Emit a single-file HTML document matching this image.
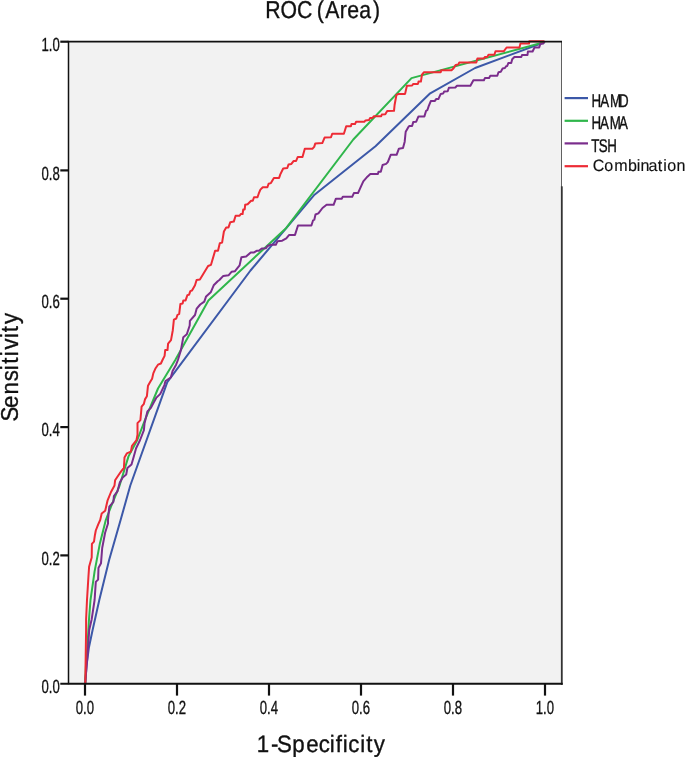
<!DOCTYPE html>
<html lang="en">
<head>
<meta charset="utf-8">
<title>ROC (Area)</title>
<style>
html,body{margin:0;padding:0;background:#fff;}
body{width:685px;height:758px;overflow:hidden;}
svg{display:block;}
text{font-family:"Liberation Sans",sans-serif;fill:#111;}
.tk{font-size:19.1px;stroke:#111;stroke-width:0.35px;}
.lg{font-size:18.4px;stroke:#111;stroke-width:0.38px;}
.ax{stroke:#111;fill:none;}
.cv{fill:none;stroke-width:2;stroke-linejoin:round;stroke-linecap:butt;}
</style>
</head>
<body>
<svg width="685" height="758" viewBox="0 0 685 758">
<rect x="0" y="0" width="685" height="758" fill="#ffffff"/>
<rect x="68.5" y="42" width="493" height="641.8" fill="#f2f2f2"/>
<path class="cv" stroke="#3c58a8" d="M85.2 683.5 L86.6 665.0 L88.9 647.5 L92.6 630.0 L99.3 600.0 L109.2 559.7 L120.6 520.0 L130.3 485.5 L167.3 382.2 L250.5 270.5 L314.5 194.7 L375.5 146.3 L430.2 93.3 L475.1 68.0 L545.0 42.0"/>
<path class="cv" stroke="#2fb64b" d="M85.2 683.5 L86.0 665.0 L87.0 651.3 L87.9 638.8 L89.0 619.2 L90.5 600.0 L94.6 571.4 L99.9 543.4 L105.8 520.0 L111.0 506.6 L119.2 486.7 L128.5 456.4 L137.3 440.0 L145.1 419.6 L158.0 388.5 L175.3 360.0 L208.4 300.4 L286.3 227.9 L353.3 139.5 L411.5 78.1 L545.0 42.0"/>
<path class="cv" stroke="#7a2d8c" d="M85.2 683.5 L87.4 656.3 L88.0 648.4 L89.2 630.0 L91.7 619.2 L94.6 600.0 L95.8 581.9 L98.1 579.6 L98.5 567.9 L101.0 563.2 L102.2 548.0 L105.1 532.8 L108.0 523.5 L108.0 520.0 L109.3 506.6 L113.4 501.9 L113.9 496.0 L117.4 491.4 L119.8 482.6 L122.7 477.4 L126.2 474.5 L127.4 468.0 L131.5 464.5 L133.8 456.4 L136.1 448.2 L140.1 440.0 L143.9 430.1 L144.5 423.6 L147.4 411.4 L150.9 407.9 L153.3 403.2 L156.2 397.9 L160.3 393.9 L164.4 385.1 L165.5 381.0 L170.8 377.5 L172.6 371.1 L176.1 364.7 L177.9 360.0 L180.9 350.1 L183.3 337.2 L186.8 334.3 L189.7 325.5 L189.9 320.9 L195.0 315.0 L196.7 308.6 L200.2 304.5 L204.3 301.6 L206.1 296.4 L210.7 292.3 L213.7 285.3 L217.7 281.2 L219.4 280.0 L223.3 275.9 L228.5 275.3 L231.5 271.8 L235.0 271.2 L239.6 265.4 L241.4 257.2 L246.1 256.6 L250.7 252.6 L253.7 252.6 L256.6 250.8 L258.9 250.8 L261.8 248.4 L265.8 248.3 L267.6 246.0 L270.5 244.8 L275.8 244.8 L277.5 241.3 L282.2 240.7 L286.3 238.4 L289.2 234.9 L295.0 234.9 L298.0 225.5 L311.4 225.5 L313.1 220.3 L314.3 219.7 L315.5 214.5 L318.4 213.3 L322.5 208.0 L326.6 204.8 L333.6 204.8 L335.9 198.7 L341.7 198.7 L342.8 196.8 L352.2 196.8 L353.9 193.1 L358.0 193.1 L360.9 186.6 L363.3 181.4 L367.4 176.7 L370.3 174.1 L377.9 174.1 L378.5 171.8 L380.8 171.8 L382.6 165.0 L386.1 163.9 L387.8 162.1 L390.7 154.8 L396.6 154.8 L398.9 148.7 L403.0 148.1 L404.7 141.7 L405.5 133.5 L405.7 131.8 L408.0 127.7 L409.2 126.0 L412.1 126.0 L413.3 121.9 L416.2 121.7 L418.5 116.4 L424.4 116.4 L426.1 110.8 L427.3 110.2 L428.5 106.7 L430.8 101.1 L434.9 100.9 L436.1 99.1 L438.4 99.1 L440.7 93.9 L443.1 93.6 L444.2 91.5 L447.7 91.3 L448.9 87.8 L455.3 87.5 L457.0 85.7 L470.4 85.7 L473.4 80.2 L483.9 80.2 L485.0 77.9 L489.1 77.9 L490.3 75.8 L497.3 75.8 L498.5 72.3 L500.8 71.8 L502.6 68.5 L504.9 68.0 L506.1 66.2 L507.2 66.0 L508.4 62.9 L511.2 62.9 L512.2 59.2 L514.4 57.0 L521.3 57.0 L522.0 55.0 L527.5 55.0 L527.9 51.5 L532.6 51.5 L534.5 47.5 L539.2 47.5 L540.3 43.9 L543.2 43.5 L543.9 42.0 L545.0 42.0"/>
<path class="cv" stroke="#ed2b35" d="M85.2 683.5 L85.3 682.5 L85.7 656.3 L86.1 630.0 L86.1 619.2 L87.0 600.0 L87.9 585.4 L88.4 577.2 L89.1 566.7 L91.7 557.4 L91.9 543.9 L94.0 541.6 L94.9 535.2 L95.8 530.5 L98.1 524.7 L100.2 520.0 L101.7 513.6 L105.2 510.7 L107.5 500.7 L111.0 492.0 L114.5 485.5 L115.1 480.3 L118.6 475.0 L121.5 470.9 L123.9 468.0 L124.5 457.5 L126.8 453.4 L130.9 451.7 L132.0 445.8 L136.5 440.0 L137.5 434.7 L137.5 423.1 L140.4 420.1 L141.6 406.7 L143.9 403.8 L145.1 399.1 L146.9 396.2 L148.0 385.7 L150.4 381.6 L152.1 378.7 L153.3 373.4 L155.6 368.2 L158.0 364.7 L160.9 363.5 L162.5 360.0 L164.6 355.9 L165.2 350.1 L167.5 350.1 L168.1 343.6 L171.0 340.1 L172.8 330.2 L173.9 319.7 L176.3 318.5 L177.4 315.0 L179.2 313.9 L180.4 303.9 L182.7 303.4 L183.3 300.4 L185.6 300.4 L187.4 295.2 L189.1 294.6 L190.3 291.1 L192.0 290.5 L195.0 285.3 L196.6 280.0 L199.9 279.4 L208.1 266.0 L211.0 264.8 L215.1 250.8 L218.0 250.8 L219.8 243.2 L222.1 242.6 L223.9 231.5 L226.2 227.4 L228.5 227.4 L230.3 222.2 L233.8 221.6 L235.6 215.8 L239.6 215.8 L240.8 214.0 L242.6 214.0 L243.2 209.6 L244.7 209.4 L245.2 204.7 L247.6 204.2 L251.1 200.7 L252.8 200.7 L254.0 197.2 L257.5 197.2 L258.7 193.7 L260.4 189.6 L262.8 187.2 L267.4 187.2 L268.6 183.7 L270.9 183.1 L273.9 177.9 L279.1 177.9 L280.3 174.4 L283.2 168.5 L287.3 168.0 L288.5 164.5 L291.4 163.9 L293.7 160.9 L296.1 160.9 L297.8 156.9 L302.5 156.9 L304.8 148.7 L312.4 148.7 L314.2 146.9 L315.3 143.4 L322.3 143.1 L324.6 137.6 L331.0 137.3 L332.2 133.8 L343.9 133.8 L346.2 126.2 L350.9 126.2 L351.5 124.1 L355.0 124.1 L356.1 121.8 L364.3 121.8 L365.5 120.4 L369.0 120.1 L370.1 118.0 L372.5 118.0 L373.7 116.3 L381.2 116.3 L381.8 114.5 L385.3 114.3 L387.2 110.9 L394.0 110.8 L394.6 105.0 L396.4 95.0 L398.7 93.9 L405.1 93.9 L406.9 85.7 L412.1 85.5 L413.3 83.9 L418.0 83.9 L418.5 81.6 L420.9 81.6 L422.0 74.6 L423.8 72.3 L440.7 72.3 L441.3 70.3 L451.5 70.3 L453.6 68.2 L455.6 64.9 L458.2 64.6 L459.3 62.5 L476.3 62.5 L477.4 58.6 L483.9 58.6 L485.0 56.9 L487.4 56.9 L488.5 54.8 L494.4 54.8 L495.5 51.3 L503.7 51.3 L506.6 47.5 L519.5 47.5 L520.4 43.6 L529.0 43.6 L529.3 41.2 L544.5 41.2"/>
<line class="ax" x1="561.5" y1="42" x2="561.5" y2="684.3" stroke-width="1" style="stroke:#606060"/>
<rect x="560.9" y="186.3" width="1.8" height="498.5" fill="#333"/>
<line class="ax" x1="67.8" y1="41.7" x2="562" y2="41.7" stroke-width="1.8"/>
<line class="ax" x1="68.5" y1="41" x2="68.5" y2="684.3" stroke-width="1.5"/>
<line class="ax" x1="60.3" y1="683.8" x2="562.7" y2="683.8" stroke-width="2.1"/>
<line class="ax" x1="85.0" y1="683.8" x2="85.0" y2="695.6" stroke-width="2.2"/>
<text class="tk" transform="translate(41.4 693.1) rotate(0.03) scale(0.69 1)">0.0</text>
<text class="tk" transform="translate(75.8 714.1) rotate(0.03) scale(0.69 1)">0.0</text>
<line class="ax" x1="60.3" y1="555.4" x2="68.5" y2="555.4" stroke-width="2.2"/>
<line class="ax" x1="177.0" y1="683.8" x2="177.0" y2="695.6" stroke-width="2.2"/>
<text class="tk" transform="translate(41.4 564.7) rotate(0.03) scale(0.69 1)">0.2</text>
<text class="tk" transform="translate(167.8 714.1) rotate(0.03) scale(0.69 1)">0.2</text>
<line class="ax" x1="60.3" y1="427.1" x2="68.5" y2="427.1" stroke-width="2.2"/>
<line class="ax" x1="269.0" y1="683.8" x2="269.0" y2="695.6" stroke-width="2.2"/>
<text class="tk" transform="translate(41.4 436.4) rotate(0.03) scale(0.69 1)">0.4</text>
<text class="tk" transform="translate(259.8 714.1) rotate(0.03) scale(0.69 1)">0.4</text>
<line class="ax" x1="60.3" y1="298.7" x2="68.5" y2="298.7" stroke-width="2.2"/>
<line class="ax" x1="361.0" y1="683.8" x2="361.0" y2="695.6" stroke-width="2.2"/>
<text class="tk" transform="translate(41.4 308.0) rotate(0.03) scale(0.69 1)">0.6</text>
<text class="tk" transform="translate(351.8 714.1) rotate(0.03) scale(0.69 1)">0.6</text>
<line class="ax" x1="60.3" y1="170.4" x2="68.5" y2="170.4" stroke-width="2.2"/>
<line class="ax" x1="453.0" y1="683.8" x2="453.0" y2="695.6" stroke-width="2.2"/>
<text class="tk" transform="translate(41.4 179.7) rotate(0.03) scale(0.69 1)">0.8</text>
<text class="tk" transform="translate(443.8 714.1) rotate(0.03) scale(0.69 1)">0.8</text>
<line class="ax" x1="60.3" y1="41.7" x2="68.5" y2="41.7" stroke-width="2.2"/>
<line class="ax" x1="545.0" y1="683.8" x2="545.0" y2="695.6" stroke-width="2.2"/>
<text class="tk" transform="translate(41.4 51.3) rotate(0.03) scale(0.69 1)">1.0</text>
<text class="tk" transform="translate(535.8 714.1) rotate(0.03) scale(0.69 1)">1.0</text>
<line x1="564.6" y1="98.1" x2="588" y2="98.1" stroke="#3c58a8" stroke-width="2.2"/>
<text class="lg" transform="translate(591 106.8) rotate(0.03) scale(0.724 1)" x="0.83 12.71 26.24 38.54" y="0">HAMD</text>
<line x1="564.6" y1="120.8" x2="588" y2="120.8" stroke="#2fb64b" stroke-width="2.2"/>
<text class="lg" transform="translate(591 129.1) rotate(0.03) scale(0.724 1)" x="0.55 12.43 26.04 38.81" y="0">HAMA</text>
<line x1="564.6" y1="143.4" x2="588" y2="143.4" stroke="#7a2d8c" stroke-width="2.2"/>
<text class="lg" transform="translate(591 151.6) rotate(0.03) scale(0.724 1)" x="0.41 10.77 22.51" y="0">TSH</text>
<line x1="564.6" y1="166.2" x2="588" y2="166.2" stroke="#ed2b35" stroke-width="2.2"/>
<text transform="translate(594.00 170.90) rotate(0.03) scale(0.980 1)" style="font-size:16.4px;stroke:#111;stroke-width:0.15px" x="-1.18 10.34 20.56 34.59 43.74 47.52 55.70 65.00 70.73 74.73 84.20" y="0">Combination</text>
<text transform="translate(267.00 18.00) rotate(0.03) scale(0.870 1)" style="font-size:24.4px;stroke:#111;stroke-width:0.35px" x="-1.89 15.40 34.43 50.54 57.32 66.98 83.72 92.20 106.03 121.74" y="0">ROC (Area)</text>
<text transform="translate(258.00 751.90) rotate(0.03) scale(0.940 1)" style="font-size:23.7px;stroke:#111;stroke-width:0.35px" x="-1.44 13.93 20.29 36.49 51.46 64.58 76.31 82.75 90.14 95.96 108.70 115.13 123.16" y="0">1-Specificity</text>
<text transform="translate(17.8 420) rotate(-90) scale(0.940 1)" style="font-size:23.7px;stroke:#111;stroke-width:0.35px" x="-1.57 12.79 27.22 41.14 52.91 59.75 67.91 74.87 87.16 93.48 102.21" y="0">Sensitivity</text>
</svg>
</body>
</html>
